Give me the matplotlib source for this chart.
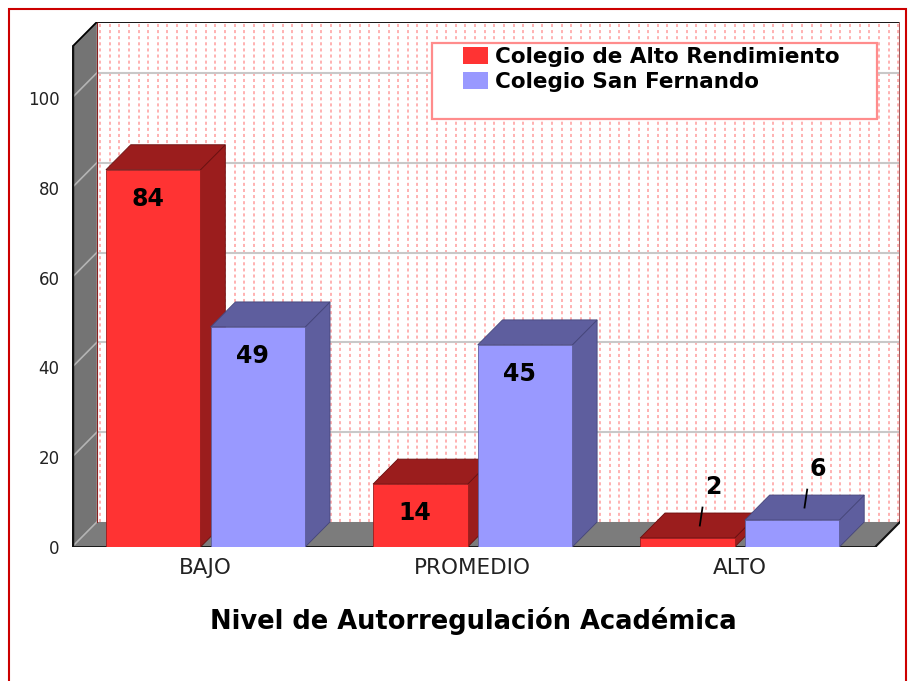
import matplotlib
matplotlib.use("Agg")
import matplotlib.pyplot as plt
import numpy as np
from matplotlib.patches import Rectangle, Polygon, Patch

# data
categories = ["BAJO", "PROMEDIO", "ALTO"]
series_names = ["Colegio de Alto Rendimiento", "Colegio San Fernando"]
alto_rendimiento = [84, 14, 2]
san_fernando = [49, 45, 6]
yticks = [0, 20, 40, 60, 80, 100]
xlabel = "Nivel de Autorregulación Académica"

front_cols = ["#FF3333", "#9999FF"]
dark_cols = ["#9B1D1D", "#5E5E9E"]
edge_cols = ["#6A1010", "#45457A"]

# geometry in data units
X0, X1 = -0.5, 2.6
YTOP = 116.9
DDX, DDY = 0.093, 5.57
BW = 0.354
GAP = 0.019


def box3d(ax, x, v, k):
    ax.add_patch(Polygon([(x + BW, 0), (x + BW + DDX, DDY), (x + BW + DDX, v + DDY), (x + BW, v)],
                         closed=True, fc=dark_cols[k], ec=edge_cols[k], lw=0.6, zorder=5))
    ax.add_patch(Polygon([(x, v), (x + BW, v), (x + BW + DDX, v + DDY), (x + DDX, v + DDY)],
                         closed=True, fc=dark_cols[k], ec=edge_cols[k], lw=0.6, zorder=5))
    ax.add_patch(Rectangle((x, 0), BW, v, fc=front_cols[k], ec=dark_cols[k], lw=0.6, zorder=5))


def main():
    fig = plt.figure(figsize=(9.08, 6.81), dpi=100)
    ax = fig.add_axes([72 / 908, 1 - 547 / 681, (900 - 72) / 908, 525 / 681])
    ax.set_xlim(X0, X1)
    ax.set_ylim(0, YTOP)
    for s in ax.spines.values():
        s.set_visible(False)
    ax.patch.set_visible(False)

    xf = X1 - DDX  # front right corner of floor

    # back wall with dotted pattern
    ax.add_patch(Rectangle((X0 + DDX, DDY), X1 - X0 - DDX, YTOP - DDY, fc="white", ec="none", zorder=1))
    for xv in np.arange(X0 + DDX + 0.012, X1 - 0.005, 0.036):
        ax.plot([xv, xv], [DDY, YTOP], color="#FF9C9C", lw=1.1, dashes=(2, 2), zorder=1.5)
    for t in yticks[1:]:
        ax.plot([X0 + DDX, X1], [t + DDY, t + DDY], color="#C8C8C8", lw=1.5, zorder=2)
    ax.plot([X0 + DDX, X1], [YTOP, YTOP], color="black", lw=1.3, zorder=3)
    ax.plot([X1, X1], [DDY, YTOP], color="#A05A5A", lw=1.5, zorder=3)
    ax.plot([X0 + DDX, X0 + DDX], [DDY, YTOP], color="#8B2020", lw=0.8, zorder=3)

    # left wall
    ax.add_patch(Polygon([(X0, 0), (X0 + DDX, DDY), (X0 + DDX, YTOP), (X0, YTOP - DDY)],
                         closed=True, fc="#747474", ec="none", zorder=2))
    for t in yticks:
        ax.plot([X0, X0 + DDX], [t, t + DDY], color="#B4B4B4", lw=1.2, zorder=2.5)
    ax.plot([X0, X0 + DDX], [YTOP - DDY, YTOP], color="black", lw=1.3, zorder=3)
    ax.plot([X0, X0], [0, YTOP - DDY], color="#111111", lw=2.5, zorder=3)

    # floor
    ax.add_patch(Polygon([(X0, 0), (xf, 0), (X1, DDY), (X0 + DDX, DDY)],
                         closed=True, fc="#7C7C7C", ec="none", zorder=2))
    ax.plot([X0, xf], [0, 0], color="#111111", lw=2, zorder=4)
    ax.plot([xf, X1], [0, DDY], color="#111111", lw=1.5, zorder=4)

    # bars
    for i in range(len(categories)):
        vals = [alto_rendimiento[i], san_fernando[i]]
        xs = [i - GAP - BW, i + GAP]
        for k in range(2):
            box3d(ax, xs[k], vals[k], k)
            cx = xs[k] + BW / 2
            v = vals[k]
            if v >= 10:
                ax.text(cx - 0.02, v - 6.5, str(v), ha="center", va="center",
                        fontsize=17, fontweight="bold", color="black", zorder=8)
            else:
                bx, by = cx + DDX / 2, v + DDY / 2
                ax.plot([bx, bx + 0.01], [by, by + 4], color="black", lw=1.3, zorder=8)
                ax.text(bx + 0.05, by + 5.8, str(v), ha="center", va="bottom",
                        fontsize=17, fontweight="bold", color="black", zorder=8)

    ax.set_yticks(yticks)
    ax.set_yticklabels([str(t) for t in yticks], fontsize=12, color="#222222")
    ax.set_xticks(range(len(categories)))
    ax.set_xticklabels(categories, fontsize=15.5, color="#222222")
    ax.tick_params(axis="y", length=0, pad=9)
    ax.tick_params(axis="x", length=0, pad=8)
    ax.set_xlabel(xlabel, fontsize=18.5, fontweight="bold")
    ax.xaxis.set_label_coords((473 - 72) / 828, -0.115)

    # legend
    fig.patches.append(Rectangle((432 / 908, 1 - 119 / 681), 445 / 908, 76 / 681,
                                 transform=fig.transFigure, fc="white", ec="#FF8C8C", lw=1.6, zorder=2))
    handles = [Patch(fc=front_cols[0], ec="none"), Patch(fc=front_cols[1], ec="none")]
    fig.legend(handles, series_names, loc="upper left", bbox_to_anchor=(463 / 908, 1 - 47 / 681),
               frameon=False, borderpad=0, borderaxespad=0,
               prop={"weight": "bold", "size": 15.5}, handlelength=1.15, handleheight=0.85,
               handletextpad=0.35, labelspacing=0.22)

    # outer frame
    fig.patches.append(Rectangle((9 / 908, -0.05), 897 / 908, 1.05 - 9 / 681,
                                 transform=fig.transFigure, fill=False, ec="#CC0000", lw=1.5, zorder=1))

    fig.savefig("out.png", dpi=100)


if __name__ == "__main__":
    main()
